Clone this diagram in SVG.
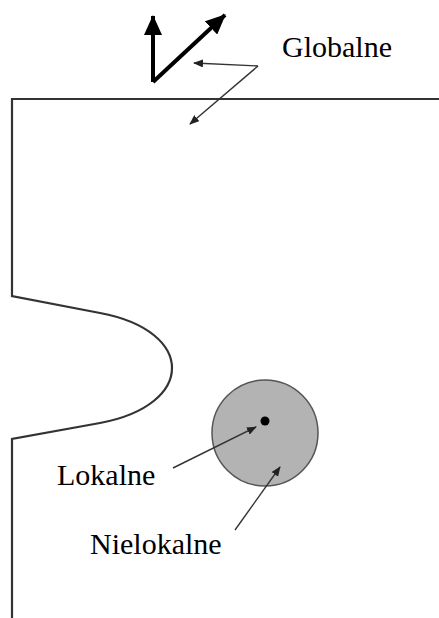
<svg xmlns="http://www.w3.org/2000/svg" width="439" height="618" viewBox="0 0 439 618">
<style>
.t{font-family:"Liberation Serif","Times New Roman",serif;font-size:30px;fill:#000}
.thin{stroke:#333;stroke-width:1.4;fill:none}
.outline{stroke:#333;stroke-width:2.2;fill:none}
</style>
<defs>
<marker id="ah" markerWidth="10" markerHeight="8" refX="9" refY="4" orient="auto" markerUnits="userSpaceOnUse"><path d="M0,0 L10,4 L0,8 Z" fill="#222"/></marker>
<marker id="big" markerWidth="20" markerHeight="18" refX="19" refY="9" orient="auto" markerUnits="userSpaceOnUse"><path d="M0,0 L20,9 L0,18 Z" fill="#000"/></marker>
</defs>
<g id="part">
<path class="outline" d="M439,99 H12 V296 L100,313 C196,331 196,405 100,423 L12,439 V618"/>
</g>
<g id="axes">
<path d="M153,82 V16" stroke="#000" stroke-width="4" fill="none" marker-end="url(#big)"/>
<path d="M153,82 L225,15" stroke="#000" stroke-width="4" fill="none" marker-end="url(#big)"/>
</g>
<g id="circle">
<circle cx="265" cy="433" r="53" fill="#b3b3b3" stroke="#555" stroke-width="1.5"/>
<circle cx="265" cy="421" r="4.5" fill="#000"/>
</g>
<g id="labels">
<text class="t" x="282" y="57">Globalne</text>
<text class="t" x="57" y="485">Lokalne</text>
<text class="t" x="90" y="554">Nielokalne</text>
</g>
<g id="connectors">
<path class="thin" d="M258,66 L194,63" marker-end="url(#ah)"/>
<path class="thin" d="M258,66 L190,124" marker-end="url(#ah)"/>
<path class="thin" d="M173,468 L256,427" marker-end="url(#ah)"/>
<path class="thin" d="M235,530 L280,467" marker-end="url(#ah)"/>
</g>
</svg>
